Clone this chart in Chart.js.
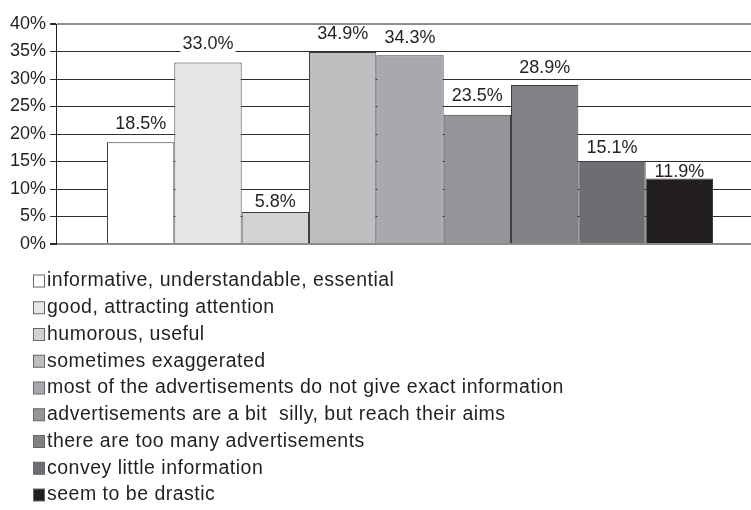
<!DOCTYPE html>
<html>
<head>
<meta charset="utf-8">
<script src="https://cdn.jsdelivr.net/npm/chart.js@4/dist/chart.umd.min.js"></script>
<style>
  html, body { margin: 0; padding: 0; background: #ffffff; }
  #wrap { width: 751px; height: 510px; position: relative; }
</style>
</head>
<body>
<div id="wrap"><canvas id="c" width="751" height="510"></canvas></div>
<script>
// ---- data ----
const categories = [''];
const seriesLabels = [
  'informative, understandable, essential',
  'good, attracting attention',
  'humorous, useful',
  'sometimes exaggerated',
  'most of the advertisements do not give exact information',
  'advertisements are a bit  silly, but reach their aims',
  'there are too many advertisements',
  'convey little information',
  'seem to be drastic'
];
const seriesValues = [18.5, 33.0, 5.8, 34.9, 34.3, 23.5, 28.9, 15.1, 11.9];
const yTickLabels = ['0%', '5%', '10%', '15%', '20%', '25%', '30%', '35%', '40%'];

// ---- styles ----
const seriesColors = ['#ffffff', '#e6e7e8', '#d1d3d4', '#bcbec0', '#a7a9ac', '#939598', '#808285', '#6d6e71', '#231f20'];
const labelLift = [18, 18, 10, 18, 17, 19, 17, 12.5, 6.5];
const FONT = '"Liberation Sans", Arial, Helvetica, sans-serif';
const INK = '#231f20';

Chart.defaults.font.family = FONT;
Chart.defaults.color = INK;

const datasets = seriesLabels.map((lab, i) => ({
  label: lab,
  data: [seriesValues[i]],
  backgroundColor: seriesColors[i],
  borderColor: '#3e3e3e',
  borderWidth: 1,
  barPercentage: 1.0,
  categoryPercentage: 0.856
}));

// the category band extends a little past the right edge of the plot
const shiftBand = {
  id: 'shiftBand',
  afterLayout(chart) {
    const x = chart.scales.x;
    x.right = x.right + 13;
    x.configure();
  }
};

const valueLabels = {
  id: 'valueLabels',
  beforeDatasetsDraw(chart) {
    const ctx = chart.ctx;
    ctx.save();
    ctx.font = '18px ' + FONT;
    chart.data.datasets.forEach((ds, i) => {
      const bar = chart.getDatasetMeta(i).data[0];
      const txt = ds.data[0].toFixed(1) + '%';
      const w = ctx.measureText(txt).width;
      const cy = bar.y - labelLift[i];
      ctx.fillStyle = '#ffffff';
      ctx.fillRect(bar.x - w / 2 - 2, cy - 8, w + 4, 16);
    });
    ctx.restore();
  },
  afterDatasetsDraw(chart) {
    const ctx = chart.ctx;
    ctx.save();
    ctx.font = '18px ' + FONT;
    ctx.fillStyle = INK;
    ctx.textAlign = 'center';
    ctx.textBaseline = 'middle';
    chart.data.datasets.forEach((ds, i) => {
      const bar = chart.getDatasetMeta(i).data[0];
      const txt = ds.data[0].toFixed(1) + '%';
      ctx.fillText(txt, bar.x, bar.y - labelLift[i]);
    });
    ctx.restore();
  }
};

const listLegend = {
  id: 'listLegend',
  afterDraw(chart) {
    const ctx = chart.ctx;
    const top = chart.chartArea.bottom + 37;
    const pitch = 26.75;
    ctx.save();
    ctx.font = '19.5px ' + FONT;
    if ('letterSpacing' in ctx) ctx.letterSpacing = '0.5px';
    ctx.textBaseline = 'middle';
    ctx.textAlign = 'left';
    chart.data.datasets.forEach((ds, i) => {
      const cy = top + i * pitch;
      ctx.fillStyle = ds.backgroundColor;
      ctx.fillRect(33.5, cy - 6, 11, 12);
      ctx.strokeStyle = '#666666';
      ctx.lineWidth = 1;
      ctx.strokeRect(33.5, cy - 6, 11, 12);
      ctx.fillStyle = INK;
      ctx.fillText(ds.label, 47, cy);
    });
    ctx.restore();
  }
};

new Chart(document.getElementById('c'), {
  type: 'bar',
  data: { labels: categories, datasets },
  options: {
    responsive: false,
    animation: false,
    layout: { padding: { left: 0, top: 24, right: 0, bottom: 266 } },
    plugins: {
      legend: { display: false },
      tooltip: { enabled: false },
      title: { display: false }
    },
    scales: {
      x: { display: false },
      y: {
        min: 0,
        max: 40,
        ticks: {
          stepSize: 5,
          font: { size: 18, family: FONT },
          color: INK,
          padding: 4,
          callback: (v) => yTickLabels[Math.round(v / 5)]
        },
        grid: {
          color: (c) => (c.tick && (c.tick.value === 0 || c.tick.value === 40)) ? '#8c8c8c' : '#2e2e2e',
          lineWidth: (c) => (c.tick && (c.tick.value === 0 || c.tick.value === 40)) ? 2 : 1,
          tickLength: 6,
          tickColor: '#2e2e2e'
        },
        border: { display: true, color: INK, width: 1 },
        afterFit: (s) => { s.width = 56; }
      }
    }
  },
  plugins: [shiftBand, valueLabels, listLegend]
});
</script>
</body>
</html>
